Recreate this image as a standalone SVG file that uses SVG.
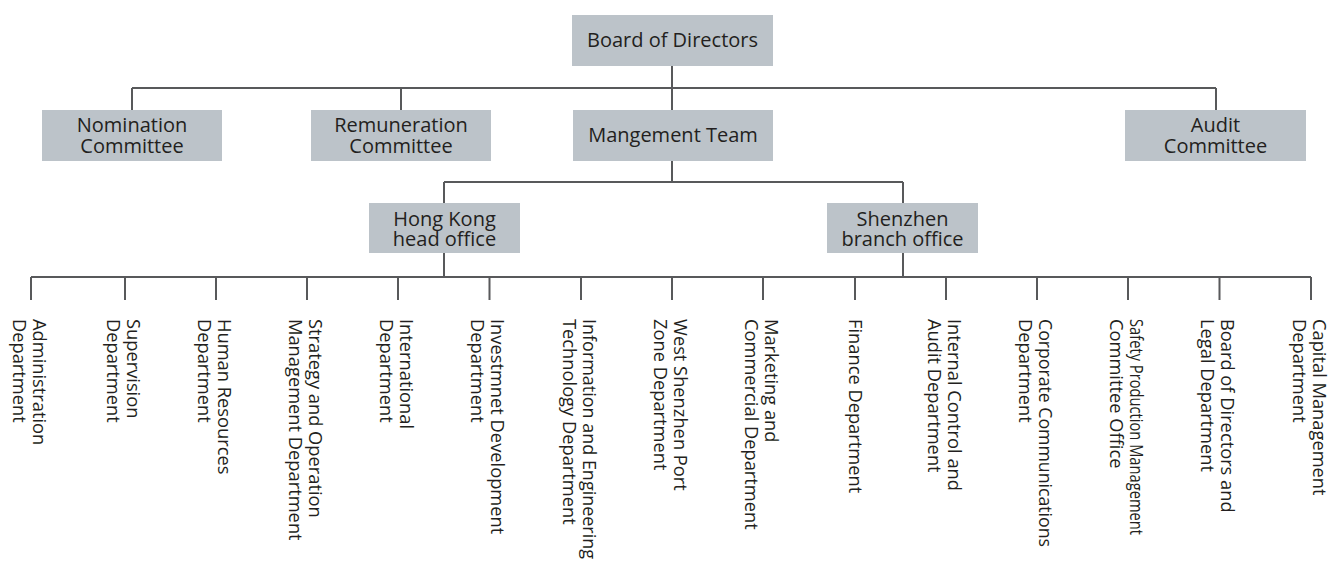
<svg xmlns="http://www.w3.org/2000/svg" width="1333" height="564" viewBox="0 0 1333 564">
<style>
.box{fill:#bcc3c9}
.bt{font-family:"Open Sans","Noto Sans",sans-serif;font-size:20px;fill:#231f20;text-anchor:middle}
.dt{font-family:"Open Sans","Noto Sans",sans-serif;font-size:18.3px;fill:#231f20}
.ln{stroke:#58595b;stroke-width:2;fill:none}
</style>
<rect width="1333" height="564" fill="#ffffff"/>
<g id="connectors" class="ln">
<path d="M672 66V110M132 88H1216M132 88V110M401 88V110M1216 88V110"/>
<path d="M672 161V182M444 182H903M444 182V203M903 182V203"/>
<path d="M444 253V277M903 253V277M31 277H1311"/>
<path d="M31 277V300M125 277V300M216 277V300M307 277V300M398 277V300M489.5 277V300M581 277V300M672 277V300M763 277V300M855 277V300M946 277V300M1037 277V300M1128 277V300M1219.5 277V300M1311 277V300"/>
</g>
<g id="board"><rect class="box" x="572" y="15" width="201" height="51"/><text class="bt" x="672.5" y="46.5">Board of Directors</text></g>
<g id="nomination"><rect class="box" x="42" y="110" width="180" height="51"/><text class="bt" x="132" y="132">Nomination</text><text class="bt" x="132" y="152.5">Committee</text></g>
<g id="remuneration"><rect class="box" x="311" y="110" width="180" height="51"/><text class="bt" x="401" y="132">Remuneration</text><text class="bt" x="401" y="152.5">Committee</text></g>
<g id="management"><rect class="box" x="573" y="110" width="200" height="51"/><text class="bt" x="673" y="141.5">Mangement Team</text></g>
<g id="audit"><rect class="box" x="1125" y="110" width="181" height="51"/><text class="bt" x="1215.5" y="132">Audit</text><text class="bt" x="1215.5" y="152.5">Committee</text></g>
<g id="hongkong"><rect class="box" x="369" y="203" width="151" height="50"/><text class="bt" x="444.5" y="225.5">Hong Kong</text><text class="bt" x="444.5" y="246">head office</text></g>
<g id="shenzhen"><rect class="box" x="827" y="203" width="151" height="50"/><text class="bt" x="902.5" y="225.5">Shenzhen</text><text class="bt" x="902.5" y="246">branch office</text></g>
<g id="d1" transform="translate(31,319) rotate(90)"><text class="dt" y="-1.5">Administration</text><text class="dt" y="18.5">Department</text></g>
<g id="d2" transform="translate(125,319) rotate(90)"><text class="dt" y="-1.5">Supervision</text><text class="dt" y="18.5">Department</text></g>
<g id="d3" transform="translate(216,319) rotate(90)"><text class="dt" y="-1.5">Human Resources</text><text class="dt" y="18.5">Department</text></g>
<g id="d4" transform="translate(307,319) rotate(90)"><text class="dt" y="-1.5">Strategy and Operation</text><text class="dt" y="18.5">Management Department</text></g>
<g id="d5" transform="translate(398,319) rotate(90)"><text class="dt" y="-1.5">International</text><text class="dt" y="18.5">Department</text></g>
<g id="d6" transform="translate(489.5,319) rotate(90)"><text class="dt" y="-1.5">Investmnet Development</text><text class="dt" y="18.5">Department</text></g>
<g id="d7" transform="translate(581,319) rotate(90)"><text class="dt" y="-1.5" textLength="240" lengthAdjust="spacingAndGlyphs">Information and Engineering</text><text class="dt" y="18.5">Technology Department</text></g>
<g id="d8" transform="translate(672,319) rotate(90)"><text class="dt" y="-1.5">West Shenzhen Port</text><text class="dt" y="18.5">Zone Department</text></g>
<g id="d9" transform="translate(763,319) rotate(90)"><text class="dt" y="-1.5">Marketing and</text><text class="dt" y="18.5">Commercial Department</text></g>
<g id="d10" transform="translate(855,319) rotate(90)"><text class="dt" y="6">Finance Department</text></g>
<g id="d11" transform="translate(946,319) rotate(90)"><text class="dt" y="-1.5">Internal Control and</text><text class="dt" y="18.5">Audit Department</text></g>
<g id="d12" transform="translate(1037,319) rotate(90)"><text class="dt" y="-1.5" textLength="228" lengthAdjust="spacingAndGlyphs">Corporate Communications</text><text class="dt" y="18.5">Department</text></g>
<g id="d13" transform="translate(1128,319) rotate(90)"><text class="dt" y="-1.5" textLength="216" lengthAdjust="spacingAndGlyphs">Safety Production Management</text><text class="dt" y="18.5">Committee Office</text></g>
<g id="d14" transform="translate(1219.5,319) rotate(90)"><text class="dt" y="-1.5">Board of Directors and</text><text class="dt" y="18.5">Legal Department</text></g>
<g id="d15" transform="translate(1311,319) rotate(90)"><text class="dt" y="-1.5">Capital Management</text><text class="dt" y="18.5">Department</text></g>
</svg>
